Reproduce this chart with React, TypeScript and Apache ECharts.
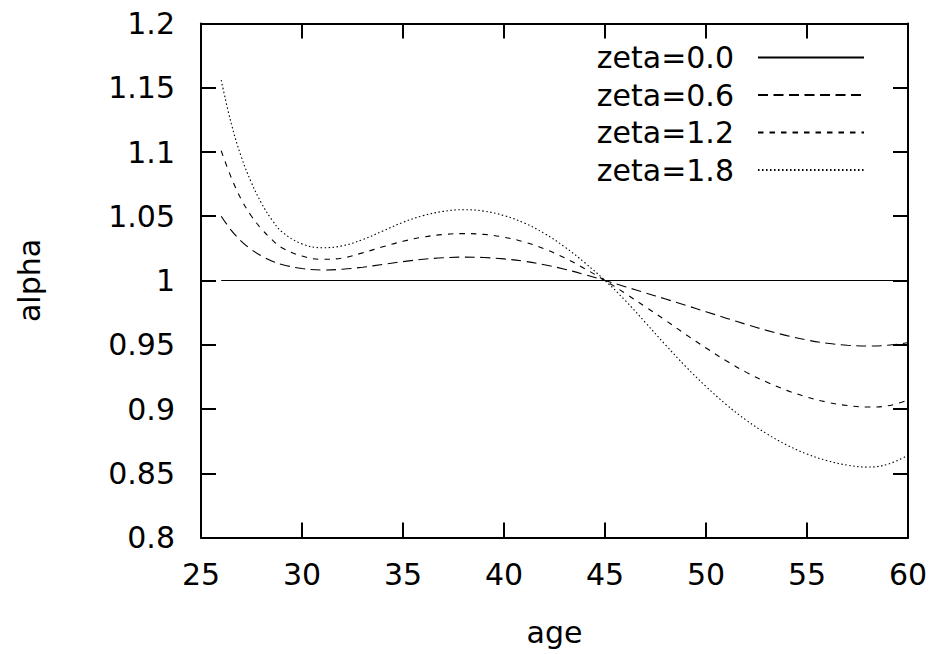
import React, { useEffect, useRef } from "react";
import * as echarts from "echarts";

const ages = [26, 26.5, 27, 27.5, 28, 28.5, 29, 30, 31, 32, 33, 34, 35, 36, 37, 38, 39, 40, 41, 42, 43, 44, 45, 46, 47, 48, 49, 50, 51, 52, 53, 54, 55, 56, 57, 58, 59, 60];

const zeta00Ages = [26, 60];
const zeta00Values = [1, 1];

const zeta06Values = [1.050, 1.039, 1.0305, 1.024, 1.019, 1.0152, 1.0125, 1.0093, 1.0082, 1.0088, 1.0103, 1.0125, 1.0147, 1.0165, 1.0177, 1.0182, 1.0179, 1.0168, 1.0150, 1.0123, 1.0088, 1.0046, 1.000, 0.9952, 0.9904, 0.9856, 0.9807, 0.9757, 0.9707, 0.9658, 0.9612, 0.9571, 0.9537, 0.9512, 0.9496, 0.9490, 0.9496, 0.9515];

const zeta12Values = [1.101, 1.080, 1.063, 1.050, 1.040, 1.032, 1.0255, 1.019, 1.0165, 1.0175, 1.0215, 1.0262, 1.0305, 1.0338, 1.0358, 1.0365, 1.0359, 1.0337, 1.0300, 1.0246, 1.0176, 1.0092, 1.000, 0.990, 0.9795, 0.969, 0.958, 0.9475, 0.9375, 0.9285, 0.921, 0.9145, 0.9093, 0.9053, 0.9027, 0.9015, 0.9025, 0.907];

const zeta18Values = [1.156, 1.122, 1.096, 1.076, 1.060, 1.0475, 1.038, 1.0285, 1.0255, 1.027, 1.0318, 1.0385, 1.0453, 1.0505, 1.0538, 1.0551, 1.0540, 1.0505, 1.0448, 1.0366, 1.0262, 1.0138, 1.000, 0.9845, 0.9673, 0.9498, 0.9330, 0.9175, 0.9035, 0.8912, 0.8808, 0.8720, 0.8650, 0.8598, 0.8563, 0.8548, 0.857, 0.864];

const seriesNames = ["zeta=0.0", "zeta=0.6", "zeta=1.2", "zeta=1.8"];

const FONT = "'DejaVu Sans', 'Liberation Sans', Arial, sans-serif";
const FS = 30;

function pairs(xs: number[], ys: number[]) {
  return xs.map((x, i) => [x, ys[i]]);
}

export default function App() {
  const ref = useRef<HTMLDivElement>(null);
  useEffect(() => {
    if (!ref.current) return;
    const chart = echarts.init(ref.current, undefined, { renderer: "svg" });
    const axisLine = { show: true, lineStyle: { color: "#000", width: 2 } };
    const tick = { show: true, inside: true, length: 15, lineStyle: { color: "#000", width: 2 } };
    const lineBase = { color: "#000", width: 1.1 };
    chart.setOption({
      animation: false,
      backgroundColor: "#fff",
      textStyle: { fontFamily: FONT },
      grid: { left: 201, right: 33, top: 23.5, bottom: 116.5, containLabel: false },
      legend: {
        orient: "vertical",
        right: 71,
        top: 37.5,
        align: "right",
        itemWidth: 106,
        itemHeight: 20,
        itemGap: 7.5,
        itemStyle: { opacity: 0, borderWidth: 0 },
        textStyle: { fontSize: FS, color: "#000", fontFamily: FONT, padding: [0, 19, 0, 0] },
        data: seriesNames,
      },
      xAxis: [
        {
          type: "value",
          min: 25,
          max: 60,
          interval: 5,
          position: "bottom",
          name: "age",
          nameLocation: "middle",
          nameGap: 80,
          nameTextStyle: { fontSize: FS, color: "#000", fontFamily: FONT },
          axisLine,
          axisTick: tick,
          axisLabel: { fontSize: FS, color: "#000", margin: 22, fontFamily: FONT },
          splitLine: { show: false },
        },
        {
          type: "value",
          min: 25,
          max: 60,
          interval: 5,
          position: "top",
          axisLine,
          axisTick: tick,
          axisLabel: { show: false },
          splitLine: { show: false },
        },
      ],
      yAxis: [
        {
          type: "value",
          min: 0.8,
          max: 1.2,
          interval: 0.05,
          position: "left",
          name: "alpha",
          nameLocation: "middle",
          nameGap: 157,
          nameRotate: 90,
          nameTextStyle: { fontSize: FS, color: "#000", fontFamily: FONT },
          axisLine,
          axisTick: tick,
          axisLabel: { fontSize: FS, color: "#000", margin: 26, fontFamily: FONT },
          splitLine: { show: false },
        },
        {
          type: "value",
          min: 0.8,
          max: 1.2,
          interval: 0.05,
          position: "right",
          axisLine,
          axisTick: tick,
          axisLabel: { show: false },
          splitLine: { show: false },
        },
      ],
      series: [
        {
          name: seriesNames[0],
          type: "line",
          data: pairs(zeta00Ages, zeta00Values),
          showSymbol: false,
          symbol: "none",
          lineStyle: { color: "#000", width: 1, type: "solid" },
          itemStyle: { color: "#000" },
        },
        {
          name: seriesNames[1],
          type: "line",
          data: pairs(ages, zeta06Values),
          smooth: 0.4,
          showSymbol: false,
          symbol: "none",
          lineStyle: { ...lineBase, type: [10, 5.5] },
          itemStyle: { color: "#000" },
        },
        {
          name: seriesNames[2],
          type: "line",
          data: pairs(ages, zeta12Values),
          smooth: 0.4,
          showSymbol: false,
          symbol: "none",
          lineStyle: { ...lineBase, type: [5.5, 6] },
          itemStyle: { color: "#000" },
        },
        {
          name: seriesNames[3],
          type: "line",
          data: pairs(ages, zeta18Values),
          smooth: 0.4,
          showSymbol: false,
          symbol: "none",
          lineStyle: { ...lineBase, type: [1.5, 2.5] },
          itemStyle: { color: "#000" },
        },
      ],
    });
    return () => chart.dispose();
  }, []);
  return (
    <div
      ref={ref}
      style={{ position: "fixed", left: 0, top: 0, width: 941, height: 654, background: "#fff" }}
    />
  );
}
